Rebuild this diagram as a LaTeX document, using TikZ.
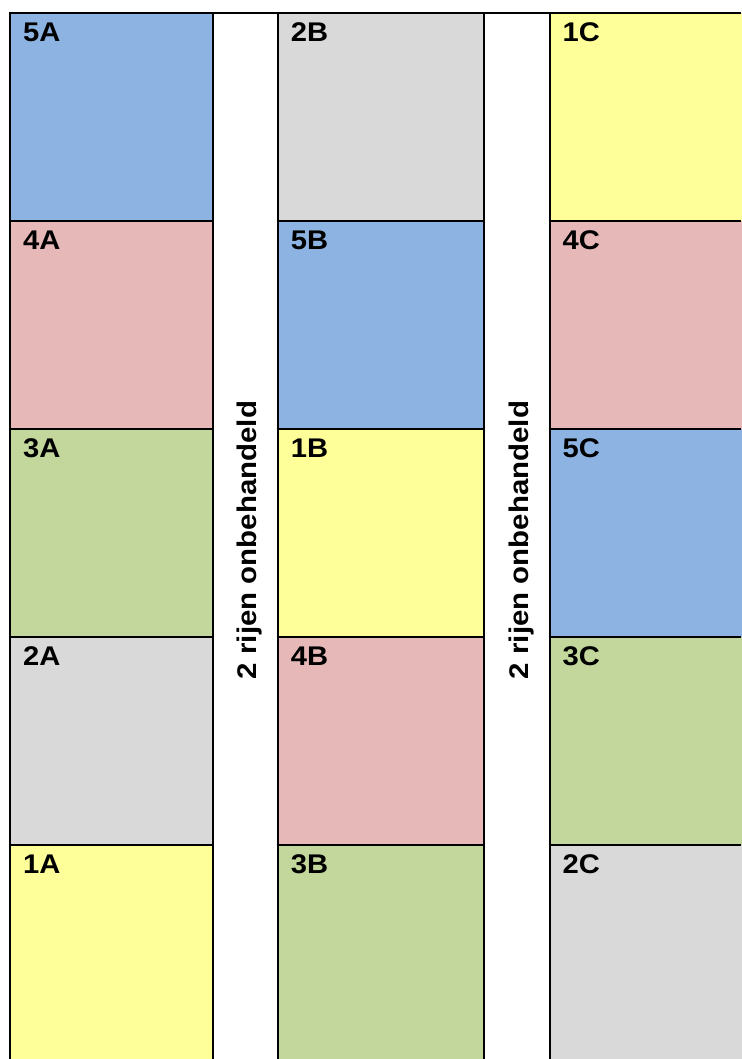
\documentclass[tikz,border=0pt]{standalone}
\usepackage{fontspec}
\setmainfont{Liberation Sans}
\definecolor{cblue}{HTML}{8DB3E2}
\definecolor{cpink}{HTML}{E6B9B8}
\definecolor{cgreen}{HTML}{C3D69B}
\definecolor{cgray}{HTML}{D9D9D9}
\definecolor{cyellow}{HTML}{FFFF99}
\begin{document}
\begin{tikzpicture}[x=1pt,y=-1pt,
  lbl/.style={anchor=base west, inner sep=0pt, font=\fontsize{27}{32}\selectfont\bfseries},
  rot/.style={anchor=base, inner sep=0pt, rotate=90, font=\fontsize{27}{32}\selectfont\bfseries},
  gridline/.style={line width=2pt, black}]
\useasboundingbox (0,0) rectangle (741,1059);
\fill[white] (0,0) rectangle (741,1059);
% cells
\foreach \xl/\xr/\r/\c/\t in {
  10/213/0/cblue/5A, 10/213/1/cpink/4A, 10/213/2/cgreen/3A, 10/213/3/cgray/2A, 10/213/4/cyellow/1A,
  277.7/484.3/0/cgray/2B, 277.7/484.3/1/cblue/5B, 277.7/484.3/2/cyellow/1B, 277.7/484.3/3/cpink/4B, 277.7/484.3/4/cgreen/3B,
  549.5/760/0/cyellow/1C, 549.5/760/1/cpink/4C, 549.5/760/2/cblue/5C, 549.5/760/3/cgreen/3C, 549.5/760/4/cgray/2C}{
  \fill[\c] (\xl,{13+208*\r}) rectangle (\xr,{13+208*\r+208+(\r==4)*20});
  \node[lbl] (n\t) at ({\xl+13},{13+208*\r+28.7}) {\scalebox{1.08}[1]{\t}};
}
% grid lines
\draw[gridline] (9,13) -- (741,13);
\foreach \x in {10,213,277.7,484.3,549.5}{
  \draw[gridline] (\x,12) -- (\x,1070);
}
\foreach \y in {221,429,637,845}{
  \draw[gridline] (9,\y) -- (214,\y);
  \draw[gridline] (276.7,\y) -- (485.3,\y);
  \draw[gridline] (548.5,\y) -- (741,\y);
}
% rotated texts
\node[rot] (g1) at (256.7,540) {\scalebox{1.09}[1]{2 rijen onbehandeld}};
\node[rot] (g2) at (528.2,540) {\scalebox{1.09}[1]{2 rijen onbehandeld}};
\end{tikzpicture}
\end{document}
